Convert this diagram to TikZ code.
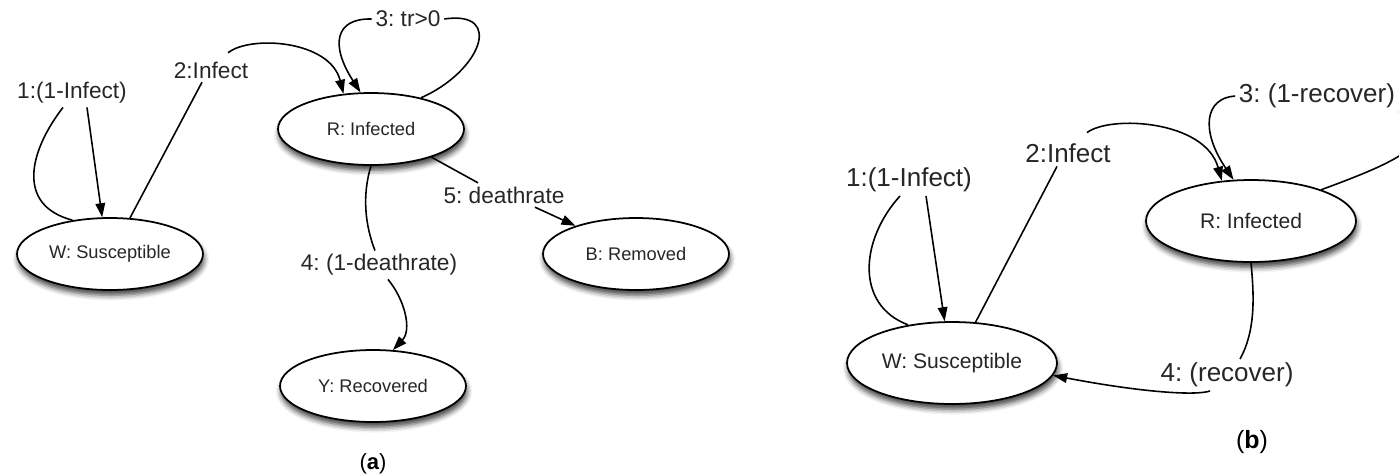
\documentclass[tikz,border=0pt]{standalone}
\usepackage{fontspec}
\setmainfont{Liberation Sans}
\usetikzlibrary{arrows.meta,shapes.geometric,shadows.blur}
\frenchspacing

\begin{document}
\begin{tikzpicture}[x=0.02cm,y=-0.02cm,
  state/.style={ellipse,draw,line width=1pt,fill=white,inner sep=0pt,text=black!85,
    blur shadow={shadow xshift=0.6pt,shadow yshift=-3pt,shadow blur radius=3pt,shadow opacity=75}},
  stateA/.style={state,minimum width=3.72cm,minimum height=1.44cm,font=\fontsize{10.4}{12}\selectfont},
  stateB/.style={state,minimum width=4.2cm,minimum height=1.64cm,font=\fontsize{12}{14}\selectfont},
  lblA/.style={inner sep=2pt,text=black!85,font=\fontsize{12.9}{15}\selectfont},
  lblB/.style={inner sep=2pt,text=black!85,font=\fontsize{14.8}{17}\selectfont},
  link/.style={line width=0.9pt},
  trans/.style={link,-{Triangle[length=8pt,width=5.5pt]}}
]
  % ===== Marco =====
  \useasboundingbox (0,0) rectangle (1399,474);
  \clip (0,0) rectangle (1399,474);

  % ===== Panel (a): estados =====
  \node[stateA] (Wa) at (110,254) {W: Susceptible};
  \node[stateA] (Ra) at (371,129) {R: Infected};
  \node[stateA] (Ba) at (636,254) {B: Removed};
  \node[stateA] (Ya) at (373,386) {Y: Recovered};

  % ===== Panel (a): etiquetas =====
  \node[lblA] (l1a) at (72,93)   {1:(1-Infect)};
  \node[lblA] (l2a) at (211,70)  {2:Infect};
  \node[lblA] (l3a) at (408,19)  {3: tr>0};
  \node[lblA] (l5a) at (504,195) {5: deathrate};
  \node[lblA] (l4a) at (379,265) {4: (1-deathrate)};

  % ===== Panel (a): transiciones =====
  \draw[link]  (Wa.138) .. controls (15,205) and (30,150) .. ([xshift=-0.18cm]l1a.south);
  \draw[trans] ([xshift=0.3cm]l1a.south) -- (Wa.102);
  \draw[link]  (Wa.61) -- ([xshift=-0.18cm]l2a.south);
  \draw[trans] ([xshift=0.34cm,yshift=0.1cm]l2a.north) .. controls (250,35) and (330,40) .. (Ra.128);
  \draw[link]  (Ra.32) .. controls (480,72) and (505,10) .. (l3a.east);
  \draw[trans] (l3a.west) .. controls (335,18) and (330,45) .. (Ra.106);
  \draw[link]  (Ra.-25) -- ([xshift=-0.52cm]l5a.north);
  \draw[trans] ([xshift=0.62cm]l5a.south) -- (Ba.155);
  \draw[link]  (Ra.south) .. controls (362,195) and (365,225) .. ([xshift=-0.08cm]l4a.north);
  \draw[trans] ([xshift=0.18cm]l4a.south) .. controls (405,300) and (412,330) .. (Ya.61);

  \node[font=\fontsize{12.5}{14}\selectfont] (capa) at (373,464) {(\textbf{a})};

  % ===== Panel (b): estados =====
  \node[stateB] (Wb) at (952,363)  {W: Susceptible};
  \node[stateB] (Rb) at (1251,221) {R: Infected};

  % ===== Panel (b): etiquetas =====
  \node[lblB] (l1b) at (909,180)  {1:(1-Infect)};
  \node[lblB] (l2b) at (1068,153) {2:Infect};
  \node[lblB] (l3b) at (1317,96)  {3: (1-recover)};
  \node[lblB] (l4b) at (1227,375) {4: (recover)};

  % ===== Panel (b): transiciones =====
  \draw[link]  (Wb.139) .. controls (855,305) and (860,240) .. ([xshift=-0.18cm]l1b.south);
  \draw[trans] ([xshift=0.34cm]l1b.south) -- (Wb.100);
  \draw[link]  (Wb.60) -- ([xshift=-0.22cm]l2b.south);
  \draw[trans] ([xshift=0.38cm,yshift=0.14cm]l2b.north) .. controls (1110,115) and (1205,120) .. (Rb.126);
  \draw[trans] (l3b.west) .. controls (1205,98) and (1200,130) .. (Rb.113);
  % el lazo sale por el borde derecho (recortado)
  \draw[link]  (Rb.24) .. controls (1380,168) and (1425,150) .. (1422,125)
                       .. controls (1420,110) and (1405,112) .. (l3b.south east);
  \draw[link]  (Rb.south) .. controls (1254,295) and (1256,330) .. ([xshift=0.26cm]l4b.north);
  \draw[trans] ([xshift=-0.34cm]l4b.south) .. controls (1195,396) and (1140,392) .. (Wb.-7);

  \node[font=\fontsize{14.2}{16}\selectfont] (capb) at (1252,442) {(\textbf{b})};

\end{tikzpicture}
\end{document}
